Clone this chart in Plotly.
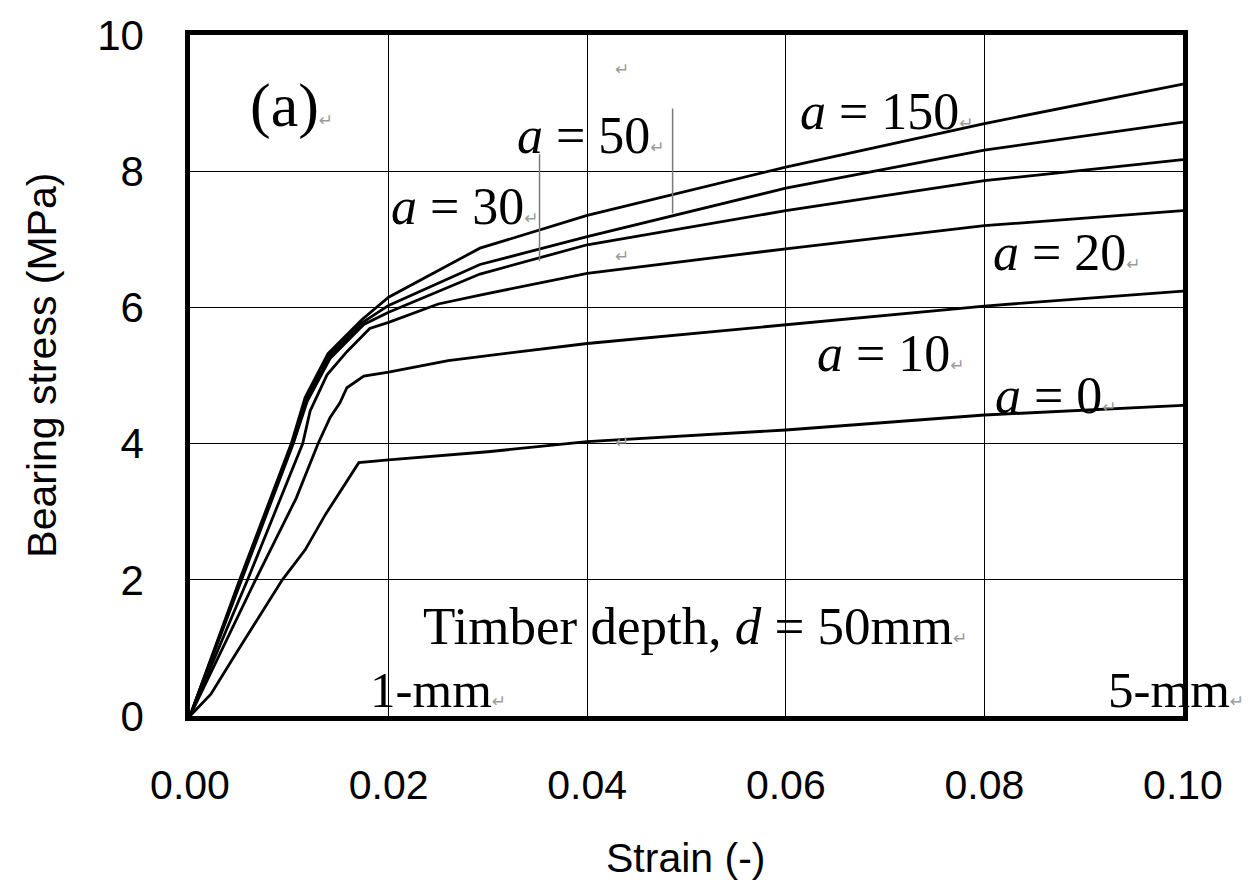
import plotly.graph_objects as go

# ---- data ----
strain_a0 = [0, 0.0021, 0.0046, 0.0093, 0.0116, 0.0136, 0.0170, 0.0200, 0.0300, 0.0400, 0.0600, 0.0800, 0.1000]
stress_a0 = [0, 0.32, 0.91, 2.00, 2.44, 2.95, 3.72, 3.76, 3.88, 4.03, 4.20, 4.42, 4.56]

strain_a10 = [0, 0.0066, 0.0107, 0.0129, 0.0141, 0.0151, 0.0158, 0.0175, 0.0200, 0.0260, 0.0400, 0.0600, 0.0800, 0.1000]
stress_a10 = [0, 2.00, 3.20, 4.00, 4.38, 4.60, 4.82, 4.99, 5.05, 5.22, 5.47, 5.74, 6.02, 6.24]

strain_a20 = [0, 0.0058, 0.01135, 0.0121, 0.0138, 0.0158, 0.0181, 0.0200, 0.0250, 0.0292, 0.0400, 0.0600, 0.0800, 0.1000]
stress_a20 = [0, 2.00, 4.00, 4.48, 5.01, 5.35, 5.69, 5.78, 6.05, 6.18, 6.50, 6.86, 7.20, 7.42]

strain_a30 = [0, 0.0052, 0.0104, 0.0118, 0.0141, 0.0175, 0.0200, 0.0292, 0.0400, 0.0600, 0.0800, 0.1000]
stress_a30 = [0, 2.00, 4.00, 4.62, 5.25, 5.75, 5.93, 6.49, 6.92, 7.42, 7.86, 8.17]

strain_a50 = [0, 0.0051, 0.0103, 0.0117, 0.0140, 0.0174, 0.0200, 0.0292, 0.0400, 0.0600, 0.0800, 0.1000]
stress_a50 = [0, 2.00, 4.00, 4.65, 5.28, 5.78, 6.03, 6.63, 7.04, 7.75, 8.31, 8.72]

strain_a150 = [0, 0.0050, 0.0102, 0.0116, 0.0139, 0.0173, 0.0200, 0.0292, 0.0400, 0.0600, 0.0800, 0.1000]
stress_a150 = [0, 2.00, 4.00, 4.68, 5.32, 5.82, 6.15, 6.87, 7.35, 8.06, 8.70, 9.28]

series_names = ["a = 0", "a = 10", "a = 20", "a = 30", "a = 50", "a = 150"]
series_x = [strain_a0, strain_a10, strain_a20, strain_a30, strain_a50, strain_a150]
series_y = [stress_a0, stress_a10, stress_a20, stress_a30, stress_a50, stress_a150]

x_ticks = [0.00, 0.02, 0.04, 0.06, 0.08, 0.10]
x_tick_labels = ["0.00", "0.02", "0.04", "0.06", "0.08", "0.10"]
y_ticks = [0, 2, 4, 6, 8, 10]
y_tick_labels = ["0", "2", "4", "6", "8", "10"]

# curve labels: (text, x, y)
label_text = ["<i>a</i> = 150", "<i>a</i> = 50", "<i>a</i> = 30", "<i>a</i> = 20", "<i>a</i> = 10", "<i>a</i> = 0"]
label_x = [0.0612, 0.0327, 0.0200, 0.0807, 0.0629, 0.0809]
label_y = [8.88, 8.52, 7.48, 6.80, 5.33, 4.70]

# leader lines (x, y0, y1)
leader_x = [0.0352, 0.0486]
leader_y0 = [6.68, 7.38]
leader_y1 = [8.25, 8.92]

RET = "<span style='color:#9a9a9a;font-size:17px;font-family:DejaVu Sans'>↵</span>"

fig = go.Figure()
for name, xs, ys in zip(series_names, series_x, series_y):
    fig.add_trace(go.Scatter(x=xs, y=ys, mode="lines", name=name,
                             line=dict(color="black", width=2.8), showlegend=False))

serif = "Liberation Serif, Times New Roman, serif"
sans = "Liberation Sans, Arial, sans-serif"

annotations = []
for t, x, y in zip(label_text, label_x, label_y):
    annotations.append(dict(x=x, y=y, xref="x", yref="y", text=t + RET, showarrow=False,
                            xanchor="left", yanchor="middle",
                            font=dict(family=serif, size=52, color="black")))
annotations += [
    dict(x=0.0058, y=8.97, xref="x", yref="y", text="(a)" + RET, showarrow=False,
         xanchor="left", yanchor="middle", font=dict(family=serif, size=62, color="black")),
    dict(x=0.0233, y=1.32, xref="x", yref="y", text="Timber depth, <i>d</i> = 50mm" + RET,
         showarrow=False, xanchor="left", yanchor="middle",
         font=dict(family=serif, size=53, color="black")),
    dict(x=0.0179, y=0.38, xref="x", yref="y", text="1-mm" + RET, showarrow=False,
         xanchor="left", yanchor="middle", font=dict(family=serif, size=51, color="black")),
    dict(x=0.0922, y=0.38, xref="x", yref="y", text="5-mm" + RET, showarrow=False,
         xanchor="left", yanchor="middle", font=dict(family=serif, size=51, color="black")),
    dict(x=-0.149, y=0.5145, xref="paper", yref="paper", text="Bearing stress (MPa)",
         textangle=-90, showarrow=False, xanchor="center", yanchor="middle",
         font=dict(family=sans, size=41, color="black")),
    dict(x=0.4985, y=-0.209, xref="paper", yref="paper", text="Strain (-)",
         showarrow=False, xanchor="center", yanchor="middle",
         font=dict(family=sans, size=41, color="black")),
]
# stray paragraph marks
for px, py in [(0.0435, 9.5), (0.0435, 6.75), (0.0435, 4.03), (0.0435, -1.48)]:
    annotations.append(dict(x=px, y=py, xref="x", yref="y", text=RET, showarrow=False,
                            xanchor="center", yanchor="middle"))

shapes = []
for lx, ly0, ly1 in zip(leader_x, leader_y0, leader_y1):
    shapes.append(dict(type="line", xref="x", yref="y", x0=lx, x1=lx, y0=ly0, y1=ly1,
                       line=dict(color="#7a7a7a", width=1.5)))

fig.update_layout(
    width=1249, height=886,
    margin=dict(l=190, r=66, t=28, b=170),
    paper_bgcolor="white", plot_bgcolor="white",
    annotations=annotations, shapes=shapes,
    showlegend=False,
)
fig.update_xaxes(range=[0, 0.10], tickvals=x_ticks, ticktext=x_tick_labels,
                 showgrid=True, gridcolor="black", gridwidth=1.2,
                 showline=True, linecolor="black", linewidth=4.5, mirror=True,
                 zeroline=False, ticks="", ticklabelstandoff=29,
                 tickfont=dict(family=sans, size=41, color="black"))
fig.update_yaxes(range=[0, 10], tickvals=y_ticks, ticktext=y_tick_labels,
                 showgrid=True, gridcolor="black", gridwidth=1.2,
                 showline=True, linecolor="black", linewidth=4.5, mirror=True,
                 zeroline=False, ticks="", ticklabelstandoff=33,
                 tickfont=dict(family=sans, size=42, color="black"))

fig.write_html("out.html")
